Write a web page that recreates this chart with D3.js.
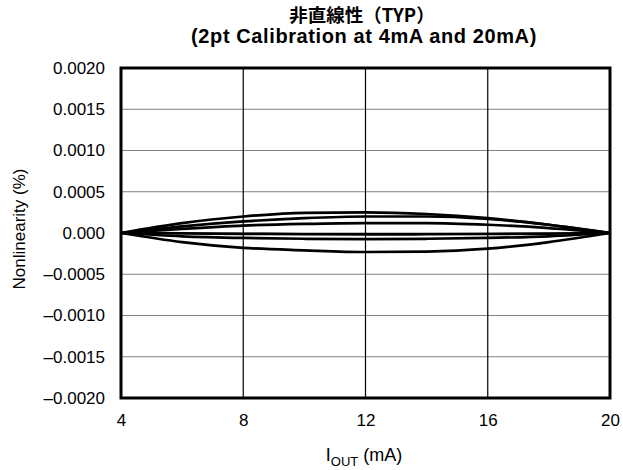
<!DOCTYPE html>
<html>
<head>
<meta charset="utf-8">
<script src="https://cdn.jsdelivr.net/npm/d3@7"></script>
<style>
  body { margin: 0; background: #fff; }
  svg text { font-family: "Liberation Sans", Arial, Helvetica, sans-serif; fill: #000; }
</style>
</head>
<body>
<div id="chart"></div>
<script>
// 数据
const xValues = [4, 6, 8, 10, 12, 14, 16, 18, 20];
const curveA = [0, 0.00012, 0.00020, 0.000245, 0.00025, 0.00023, 0.00018, 0.00010, 0];
const curveB = [0, 0.00008, 0.00014, 0.00018, 0.00020, 0.00020, 0.00017, 0.00010, 0];
const curveC = [0, 0.00005, 0.00009, 0.00011, 0.00012, 0.00012, 0.00010, 0.00006, 0];
const curveD = [0, -0.000005, -0.00001, -0.000015, -0.000017, -0.000015, -0.000012, -0.000007, 0];
const curveE = [0, -0.00004, -0.00006, -0.00007, -0.000075, -0.00007, -0.00006, -0.00004, 0];
const curveF = [0, -0.00011, -0.00018, -0.00021, -0.00023, -0.000225, -0.00019, -0.00011, 0];
const curves = [curveA, curveB, curveC, curveD, curveE, curveF];

const xTicks = [4, 8, 12, 16, 20];
const yTicks = [-0.002, -0.0015, -0.001, -0.0005, 0, 0.0005, 0.001, 0.0015, 0.002];
const yTickLabels = ["\u20130.0020", "\u20130.0015", "\u20130.0010", "\u20130.0005", "0.000",
                     "0.0005", "0.0010", "0.0015", "0.0020"];

const width = 623, height = 470;
const margin = { left: 121, right: 13, top: 68, bottom: 72 };
const innerW = width - margin.left - margin.right;
const innerH = height - margin.top - margin.bottom;

const svg = d3.select('#chart').append('svg')
    .attr('width', width)
    .attr('height', height);

const x = d3.scaleLinear().domain([4, 20]).range([margin.left, margin.left + innerW]);
const y = d3.scaleLinear().domain([-0.002, 0.002]).range([margin.top + innerH, margin.top]);

// 网格线
svg.append('g')
    .selectAll('line')
    .data(yTicks.slice(1, -1))
    .enter().append('line')
    .attr('x1', x(4)).attr('x2', x(20))
    .attr('y1', d => y(d)).attr('y2', d => y(d))
    .attr('stroke', '#808080')
    .attr('stroke-width', 1);

svg.append('g')
    .selectAll('line')
    .data(xTicks.slice(1, -1))
    .enter().append('line')
    .attr('x1', d => x(d)).attr('x2', d => x(d))
    .attr('y1', y(-0.002)).attr('y2', y(0.002))
    .attr('stroke', '#000')
    .attr('stroke-width', 1.2);

// 曲线
const line = d3.line()
    .x((d, i) => x(xValues[i]))
    .y(d => y(d))
    .curve(d3.curveMonotoneX);

svg.append('g')
    .selectAll('path')
    .data(curves)
    .enter().append('path')
    .attr('d', line)
    .attr('fill', 'none')
    .attr('stroke', '#000')
    .attr('stroke-width', 2.7);

// 坐标轴
const yAxis = svg.append('g')
    .attr('transform', `translate(${margin.left},0)`)
    .call(d3.axisLeft(y).tickValues(yTicks).tickSize(0).tickPadding(16)
        .tickFormat((d, i) => yTickLabels[i]));
yAxis.select('.domain').remove();
yAxis.selectAll('text').style('font-size', '17px').style('font-family', '"Liberation Sans", Arial, sans-serif');

const xAxis = svg.append('g')
    .attr('transform', `translate(0,${margin.top + innerH})`)
    .call(d3.axisBottom(x).tickValues(xTicks).tickSize(0).tickPadding(16));
xAxis.select('.domain').remove();
xAxis.selectAll('text').style('font-size', '17px').style('font-family', '"Liberation Sans", Arial, sans-serif');

// 边框
svg.append('rect')
    .attr('x', margin.left).attr('y', margin.top)
    .attr('width', innerW).attr('height', innerH)
    .attr('fill', 'none')
    .attr('stroke', '#000')
    .attr('stroke-width', 3);

// 标题
svg.append('text')
    .attr('x', 362).attr('y', 22)
    .attr('text-anchor', 'middle')
    .style('font-family', '"Noto Sans CJK JP", sans-serif')
    .style('font-size', '18.5px')
    .style('font-weight', 'bold')
    .text('非直線性（TYP）');

svg.append('text')
    .attr('x', 364).attr('y', 43)
    .attr('text-anchor', 'middle')
    .style('font-size', '20px')
    .style('font-weight', 'bold')
    .style('letter-spacing', '0.6px')
    .text('(2pt Calibration at 4mA and 20mA)');

// 轴标题
const xt = svg.append('text')
    .attr('x', 364).attr('y', 461)
    .attr('text-anchor', 'middle')
    .style('font-size', '18px');
xt.append('tspan').text('I');
xt.append('tspan').attr('dy', 5).style('font-size', '13px').text('OUT');
xt.append('tspan').attr('dy', -5).text(' (mA)');

svg.append('text')
    .attr('transform', `translate(25,229) rotate(-90)`)
    .attr('text-anchor', 'middle')
    .style('font-size', '17px')
    .text('Nonlinearity (%)');
</script>
</body>
</html>
